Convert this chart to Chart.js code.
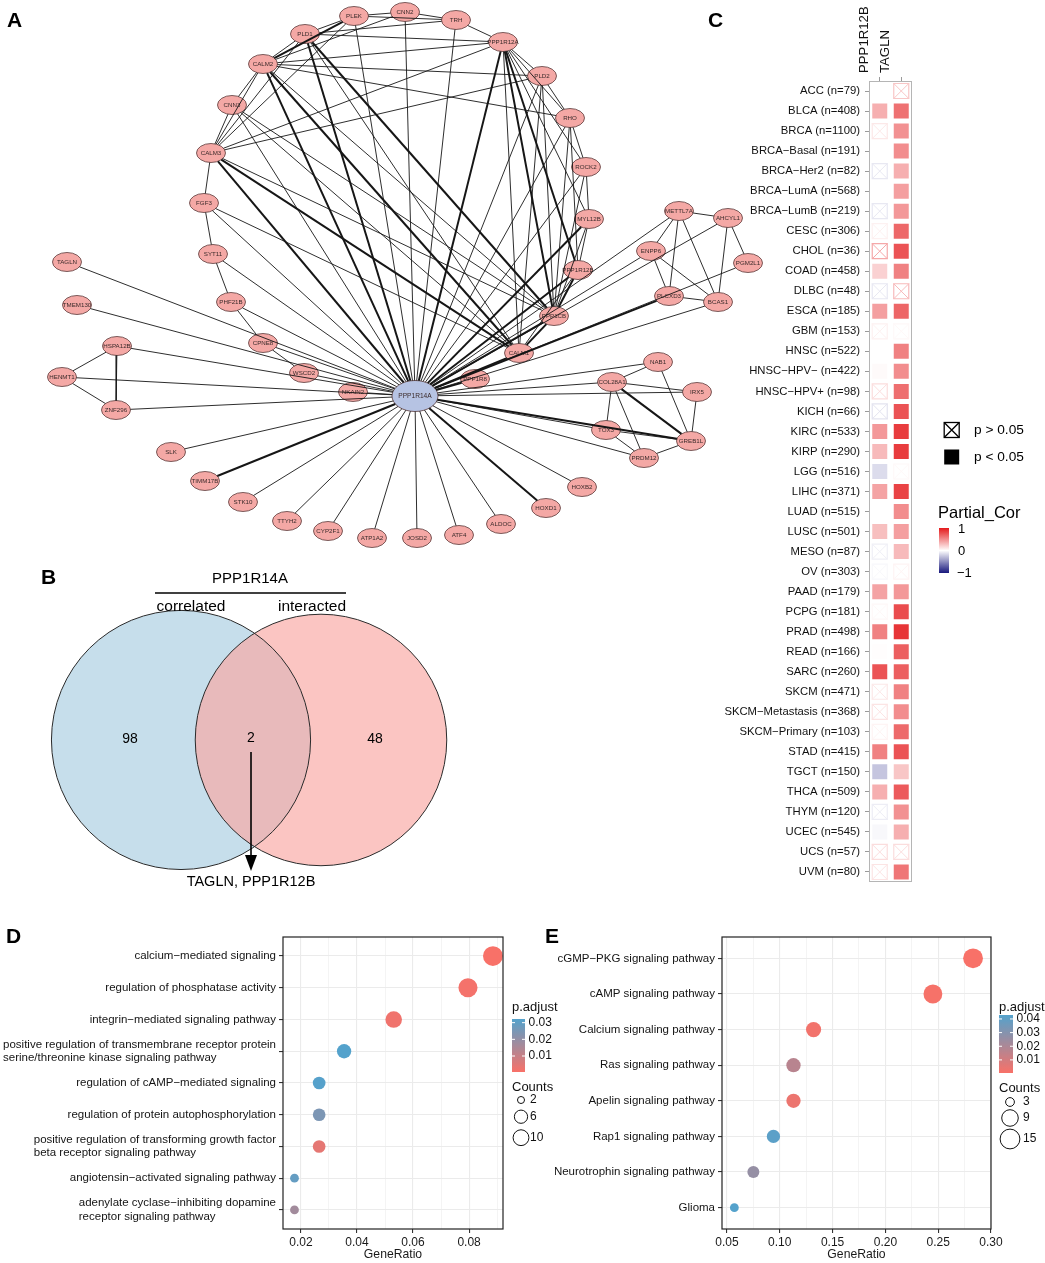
<!DOCTYPE html>
<html>
<head>
<meta charset="utf-8">
<title>PPP1R14A figure</title>
<script src="https://cdn.jsdelivr.net/npm/chart.js@4.4.1/dist/chart.umd.min.js"></script>
<style>
html,body{margin:0;padding:0;background:#ffffff;}
body{position:relative;width:1045px;height:1263px;overflow:hidden;font-family:"Liberation Sans",Arial,Helvetica,sans-serif;}
canvas{position:absolute;display:block;}
.tag{position:absolute;font-weight:bold;font-size:21px;line-height:1;color:#000;}
</style>
</head>
<body>
<canvas id="netA" width="780" height="560" style="left:0px;top:0px;width:780px;height:560px"></canvas>
<canvas id="vennB" width="470" height="340" style="left:0px;top:560px;width:470px;height:340px"></canvas>
<canvas id="heatC" width="345" height="900" style="left:700px;top:0px;width:345px;height:900px"></canvas>
<canvas id="dotD" width="560" height="343" style="left:0px;top:920px;width:560px;height:343px"></canvas>
<canvas id="dotE" width="490" height="343" style="left:555px;top:920px;width:490px;height:343px"></canvas>
<div class="tag" style="left:7px;top:9px">A</div>
<div class="tag" style="left:41px;top:566px">B</div>
<div class="tag" style="left:708px;top:9px">C</div>
<div class="tag" style="left:6px;top:925px">D</div>
<div class="tag" style="left:545px;top:925px">E</div>
<script>
// ------------------------------------------------------------------ data
// Panel A: network
const netHub = 'PPP1R14A';
const netNodes = ['PPP1R14A','PLEK','PLD1','CALM2','CNN3','CALM3','FGF3','CNN2','TRH','PPP1R12A','PLD2','RHO','ROCK2','MYL12B','METTL7A','AHCYL1','SYT11','TAGLN','PHF21B','TMEM130','CPNE8','HSPA12B','WSCD2','HENMT1','NKAIN2','ZNF296','SLK','ENPP6','PGM2L1','PPP1R12B','PLCXD3','BCAS1','PPP1CB','CALM1','NAB1','PPP1R8','COL28A1','IRX5','TOX3','GREB1L','PRDM12','TIMM17B','STK10','TTYH2','CYP2F1','ATP1A2','JOSD2','ATF4','ALDOC','HOXD1','HOXB2'];
const netX = [415,354,305,263,232,211,204,405,456,503,542,570,586,589,679,728,213,67,231,77,263,117,304,62,353,116,171,651,748,578,669,718,554,519,658,475,612,697,606,691,644,205,243,287,328,372,417,459,501,546,582];
const netY = [396,16,34,64,105,153,203,12,20,42,76,118,167,219,211,218,254,262,302,305,343,346,373,377,392,410,452,251,263,270,296,302,316,353,362,379,382,392,430,441,458,481,502,521,531,538,538,535,524,508,487];
const netEdges = [
 ['PPP1R14A','PLEK',1],['PPP1R14A','PLD1',2],['PPP1R14A','CALM2',2],['PPP1R14A','CNN3',1],['PPP1R14A','CALM3',2],['PPP1R14A','FGF3',1],['PPP1R14A','CNN2',1],['PPP1R14A','TRH',1],['PPP1R14A','PPP1R12A',2],['PPP1R14A','PLD2',1],['PPP1R14A','RHO',1],['PPP1R14A','ROCK2',1],['PPP1R14A','MYL12B',2],['PPP1R14A','METTL7A',1],['PPP1R14A','AHCYL1',1],['PPP1R14A','SYT11',1],['PPP1R14A','TAGLN',1],['PPP1R14A','PHF21B',1],['PPP1R14A','TMEM130',1],['PPP1R14A','CPNE8',1],['PPP1R14A','HSPA12B',1],['PPP1R14A','WSCD2',1],['PPP1R14A','HENMT1',1],['PPP1R14A','NKAIN2',1],['PPP1R14A','ZNF296',1],['PPP1R14A','SLK',1],['PPP1R14A','ENPP6',1],['PPP1R14A','PGM2L1',1],['PPP1R14A','PPP1R12B',2],['PPP1R14A','PLCXD3',2],['PPP1R14A','BCAS1',1],['PPP1R14A','PPP1CB',2],['PPP1R14A','CALM1',2],['PPP1R14A','NAB1',1],['PPP1R14A','PPP1R8',2],['PPP1R14A','COL28A1',1],['PPP1R14A','IRX5',1],['PPP1R14A','TOX3',1],['PPP1R14A','GREB1L',2],['PPP1R14A','PRDM12',1],['PPP1R14A','TIMM17B',2],['PPP1R14A','STK10',1],['PPP1R14A','TTYH2',1],['PPP1R14A','CYP2F1',1],['PPP1R14A','ATP1A2',1],['PPP1R14A','JOSD2',1],['PPP1R14A','ATF4',1],['PPP1R14A','ALDOC',1],['PPP1R14A','HOXD1',2],['PPP1R14A','HOXB2',1],
 ['PLEK','CNN2',1],['PLEK','TRH',1],['PLEK','PLD1',1],['PLEK','CALM2',2],['PLEK','CALM3',1],
 ['PLD1','CALM2',1],['PLD1','CALM3',1],['PLD1','TRH',1],['PLD1','PPP1R12A',1],['PLD1','PPP1CB',2],['PLD1','CALM1',1],
 ['CALM2','CNN3',1],['CALM2','CALM3',1],['CALM2','PLD2',1],['CALM2','PPP1R12A',1],['CALM2','RHO',1],['CALM2','PPP1CB',1],['CALM2','CALM1',2],
 ['CNN3','CALM3',1],['CNN3','CALM1',1],['CNN3','PPP1CB',1],
 ['CALM3','FGF3',1],['CALM3','PPP1R12A',1],['CALM3','PLD2',1],['CALM3','CALM1',2],['CALM3','PPP1CB',1],
 ['FGF3','SYT11',1],['FGF3','CALM1',1],
 ['CNN2','TRH',1],['CNN2','CALM2',1],['TRH','PPP1R12A',1],
 ['PPP1R12A','PLD2',1],['PPP1R12A','RHO',1],['PPP1R12A','ROCK2',1],['PPP1R12A','MYL12B',1],['PPP1R12A','PPP1R12B',2],['PPP1R12A','PPP1CB',2],['PPP1R12A','CALM1',1],
 ['PLD2','RHO',1],['PLD2','PPP1CB',1],['PLD2','CALM1',1],
 ['RHO','ROCK2',1],['RHO','PPP1R12B',1],['RHO','PPP1CB',1],
 ['ROCK2','MYL12B',1],['ROCK2','PPP1CB',1],
 ['MYL12B','PPP1R12B',1],['MYL12B','PPP1CB',1],
 ['PPP1R12B','PPP1CB',2],['PPP1R12B','CALM1',1],['PPP1CB','CALM1',2],
 ['SYT11','PHF21B',1],['PHF21B','CPNE8',1],['CPNE8','WSCD2',1],
 ['HSPA12B','HENMT1',1],['HSPA12B','ZNF296',1],['HENMT1','ZNF296',1],
 ['METTL7A','AHCYL1',1],['METTL7A','ENPP6',1],['METTL7A','PLCXD3',1],['METTL7A','BCAS1',1],['AHCYL1','PGM2L1',1],['AHCYL1','BCAS1',1],['ENPP6','PLCXD3',1],['ENPP6','BCAS1',1],['PLCXD3','BCAS1',1],
 ['NAB1','COL28A1',1],['NAB1','GREB1L',1],['COL28A1','IRX5',1],['COL28A1','TOX3',1],['COL28A1','PRDM12',1],['COL28A1','GREB1L',2],['IRX5','GREB1L',1],['TOX3','PRDM12',1],['TOX3','GREB1L',1],['PRDM12','GREB1L',1]
];

// Panel B: Venn
const vennSets = ['correlated','interacted'];
const vennCounts = [98, 2, 48];           // only-correlated, shared, only-interacted
const vennShared = 'TAGLN, PPP1R12B';
const vennX = [-0.551, 0.551];
const vennR = [1.02, 0.99];

// Panel C: partial correlation heatmap
const heatCols = ['PPP1R12B','TAGLN'];
const heatRows = ['ACC (n=79)','BLCA (n=408)','BRCA (n=1100)','BRCA−Basal (n=191)','BRCA−Her2 (n=82)','BRCA−LumA (n=568)','BRCA−LumB (n=219)','CESC (n=306)','CHOL (n=36)','COAD (n=458)','DLBC (n=48)','ESCA (n=185)','GBM (n=153)','HNSC (n=522)','HNSC−HPV− (n=422)','HNSC−HPV+ (n=98)','KICH (n=66)','KIRC (n=533)','KIRP (n=290)','LGG (n=516)','LIHC (n=371)','LUAD (n=515)','LUSC (n=501)','MESO (n=87)','OV (n=303)','PAAD (n=179)','PCPG (n=181)','PRAD (n=498)','READ (n=166)','SARC (n=260)','SKCM (n=471)','SKCM−Metastasis (n=368)','SKCM−Primary (n=103)','STAD (n=415)','TGCT (n=150)','THCA (n=509)','THYM (n=120)','UCEC (n=545)','UCS (n=57)','UVM (n=80)'];
const corPPP1R12B = [0.0,0.35,0.10,0.0,-0.10,0.0,-0.10,0.06,0.38,0.20,-0.10,0.42,0.06,0.0,0.02,0.15,-0.12,0.45,0.30,-0.15,0.40,0.0,0.28,-0.07,-0.03,0.40,0.03,0.55,0.01,0.75,0.10,0.12,0.05,0.55,-0.25,0.35,-0.08,-0.03,0.15,0.12];
const sigPPP1R12B = [1,1,0,1,0,1,0,0,0,1,0,1,0,1,1,0,0,1,1,1,1,1,1,0,0,1,0,1,1,1,0,0,0,1,1,1,0,1,0,0];
const corTAGLN = [0.25,0.62,0.48,0.50,0.35,0.42,0.45,0.66,0.75,0.55,0.30,0.67,0.03,0.55,0.50,0.63,0.75,0.85,0.85,0.03,0.82,0.50,0.42,0.30,0.05,0.45,0.78,0.88,0.70,0.70,0.55,0.50,0.65,0.75,0.25,0.72,0.48,0.35,0.15,0.60];
const sigTAGLN = [0,1,1,1,1,1,1,1,1,1,0,1,0,1,1,1,1,1,1,0,1,1,1,1,0,1,1,1,1,1,1,1,1,1,1,1,1,1,0,1];

// Panel D: GO enrichment
const goTerms = [
 ['calcium−mediated signaling'],
 ['regulation of phosphatase activity'],
 ['integrin−mediated signaling pathway'],
 ['positive regulation of transmembrane receptor protein','serine/threonine kinase signaling pathway'],
 ['regulation of cAMP−mediated signaling'],
 ['regulation of protein autophosphorylation'],
 ['positive regulation of transforming growth factor','beta receptor signaling pathway'],
 ['angiotensin−activated signaling pathway'],
 ['adenylate cyclase−inhibiting dopamine','receptor signaling pathway']
];
const goRatio = [0.0885,0.0796,0.0531,0.0354,0.0265,0.0265,0.0265,0.0177,0.0177];
const goCount = [10,9,6,4,3,3,3,2,2];
const goPadj  = [0.0004,0.0012,0.0020,0.0322,0.0318,0.0245,0.0040,0.0290,0.0170];
const goPadjTicks = [0.01,0.02,0.03];
const goCountTicks = [2,6,10];
const goXTicks = [0.02,0.04,0.06,0.08];

// Panel E: KEGG enrichment
const keggTerms = [['cGMP−PKG signaling pathway'],['cAMP signaling pathway'],['Calcium signaling pathway'],['Ras signaling pathway'],['Apelin signaling pathway'],['Rap1 signaling pathway'],['Neurotrophin signaling pathway'],['Glioma']];
const keggRatio = [0.283,0.245,0.132,0.113,0.113,0.094,0.075,0.057];
const keggCount = [15,13,7,6,6,5,4,3];
const keggPadj  = [0.0004,0.0010,0.0020,0.0170,0.0035,0.0410,0.0260,0.0429];
const keggPadjTicks = [0.01,0.02,0.03,0.04];
const keggCountTicks = [3,9,15];
const keggXTicks = [0.05,0.10,0.15,0.20,0.25,0.30];

// ------------------------------------------------------------------ setup
const FONT = '"Liberation Sans", Arial, Helvetica, sans-serif';
Chart.defaults.font.family = FONT;
Chart.defaults.color = '#1a1a1a';
Chart.defaults.animation = false;
Chart.defaults.events = [];
Chart.defaults.plugins.legend.display = false;
Chart.defaults.plugins.tooltip.enabled = false;

// ------------------------------------------------------------------ A: network
(function(){
  const ix = n => netNodes.indexOf(n);
  const radii = n => n === netHub ? [23, 15.5] : [14.5, 9.5];
  const edgeSets = netEdges.map(([a, b, w]) => {
    const ia = ix(a), ib = ix(b);
    const x1 = netX[ia], y1 = netY[ia], x2 = netX[ib], y2 = netY[ib];
    const dx = x2 - x1, dy = y2 - y1, L = Math.hypot(dx, dy), ux = dx / L, uy = dy / L;
    const [ra, sa] = radii(a), [rb, sb] = radii(b);
    const ta = 1 / Math.hypot(ux / ra, uy / sa), tb = 1 / Math.hypot(ux / rb, uy / sb);
    return { type: 'scatter', showLine: true,
      data: [{x: x1 + ux * ta, y: y1 + uy * ta}, {x: x2 - ux * tb, y: y2 - uy * tb}],
      borderColor: '#161616', borderWidth: w > 1 ? 2.0 : 0.9, pointRadius: 0, tension: 0 };
  });
  const nodeSet = { type: 'scatter', data: netNodes.map((n, i) => ({x: netX[i], y: netY[i]})), pointRadius: 0 };
  const nodePlugin = {
    id: 'nodes',
    beforeDatasetsDraw(chart) {
      const meta = chart.getDatasetMeta(chart.data.datasets.length - 1);
      const ctx = chart.ctx;
      ctx.save();
      meta.data.forEach((pt, i) => {
        const name = netNodes[i];
        const [rx, ry] = radii(name);
        ctx.beginPath();
        ctx.ellipse(pt.x, pt.y, rx, ry, 0, 0, Math.PI * 2);
        ctx.fillStyle = name === netHub ? '#B6C3E3' : '#F4A8A5';
        ctx.fill();
        ctx.lineWidth = 0.8; ctx.strokeStyle = '#5a3a3a'; ctx.stroke();
        ctx.fillStyle = '#3a2a2a';
        ctx.font = (name === netHub ? '6.6px ' : '6.2px ') + FONT;
        ctx.textAlign = 'center'; ctx.textBaseline = 'middle';
        ctx.fillText(name, pt.x, pt.y + 0.5);
      });
      ctx.restore();
    }
  };
  new Chart(document.getElementById('netA'), {
    type: 'scatter',
    data: { datasets: edgeSets.concat([nodeSet]) },
    options: { responsive: false, layout: {padding: 0},
      scales: { x: {type: 'linear', display: false, min: 0, max: 780},
                y: {type: 'linear', display: false, min: 0, max: 560, reverse: true} } },
    plugins: [nodePlugin]
  });
})();

// ------------------------------------------------------------------ B: Venn
(function(){
  const rad = ctx => {
    const sx = ctx.chart.scales.x;
    return Math.abs(sx.getPixelForValue(vennR[ctx.dataIndex]) - sx.getPixelForValue(0));
  };
  const pts = vennX.map(x => ({x: x, y: 0}));
  const vennPlugin = {
    id: 'vennText',
    afterDatasetsDraw(chart) {
      const ctx = chart.ctx;
      const sx = chart.scales.x;
      const cx = sx.getPixelForValue(0);
      ctx.save();
      ctx.fillStyle = '#000'; ctx.strokeStyle = '#000';
      ctx.textAlign = 'center'; ctx.textBaseline = 'middle';
      ctx.font = '15px ' + FONT;
      ctx.fillText(netHub, cx - 1, 19);
      ctx.lineWidth = 1.4;
      ctx.beginPath(); ctx.moveTo(155, 33); ctx.lineTo(346, 33); ctx.stroke();
      ctx.font = '15.5px ' + FONT;
      ctx.fillText(vennSets[0], 191, 47);
      ctx.fillText(vennSets[1], 312, 47);
      ctx.font = '14px ' + FONT;
      ctx.fillText(String(vennCounts[0]), 130, 179);
      ctx.fillText(String(vennCounts[1]), cx, 178);
      ctx.fillText(String(vennCounts[2]), 375, 179);
      ctx.lineWidth = 1.6;
      ctx.beginPath(); ctx.moveTo(cx, 192); ctx.lineTo(cx, 298); ctx.stroke();
      ctx.beginPath(); ctx.moveTo(cx, 311); ctx.lineTo(cx - 6, 295); ctx.lineTo(cx + 6, 295); ctx.closePath(); ctx.fill();
      ctx.font = '14.5px ' + FONT;
      ctx.fillText(vennShared, cx, 322);
      ctx.restore();
    }
  };
  new Chart(document.getElementById('vennB'), {
    type: 'scatter',
    data: { datasets: [
      { data: pts, pointRadius: rad, pointBackgroundColor: 'rgba(0,0,0,0)', pointBorderColor: '#2a2a2a', pointBorderWidth: 1 },
      { data: pts, pointRadius: rad, pointBackgroundColor: ['rgb(198,222,235)', 'rgba(249,168,164,0.667)'], pointBorderWidth: 0 }
    ]},
    options: { responsive: false, layout: {padding: 0},
      scales: { x: {type: 'linear', display: false, min: -1.976, max: 1.724},
                y: {type: 'linear', display: false, min: -1.260, max: 1.417} } },
    plugins: [vennPlugin]
  });
})();

// ------------------------------------------------------------------ C: heatmap
function corColor(v) {
  const hi = [228, 26, 28], lo = [24, 24, 125];
  const t = Math.min(1, Math.abs(v)), c = v >= 0 ? hi : lo;
  const m = k => Math.round(255 + (c[k] - 255) * t);
  return 'rgb(' + m(0) + ',' + m(1) + ',' + m(2) + ')';
}
(function(){
  const sigPts = [], sigCol = [], nsPts = [], nsCol = [];
  heatRows.forEach((r, i) => {
    [[corPPP1R12B, sigPPP1R12B, 0], [corTAGLN, sigTAGLN, 1]].forEach(([cv, sv, c]) => {
      const p = {x: heatCols[c], y: r};
      if (sv[i]) { sigPts.push(p); sigCol.push(corColor(cv[i])); }
      else { nsPts.push(p); nsCol.push(corColor(cv[i])); }
    });
  });
  const R = 7.5 / Math.SQRT1_2;
  const boxPlugin = {
    id: 'heatBox',
    afterDraw(chart) {
      const ctx = chart.ctx, a = chart.chartArea;
      ctx.save();
      ctx.strokeStyle = '#b5b5b5'; ctx.lineWidth = 1;
      ctx.strokeRect(a.left + 0.5, a.top + 0.5, a.right - a.left - 1, a.bottom - a.top - 1);
      ctx.strokeStyle = '#000'; ctx.lineWidth = 1.3;
      const bx = 251.7, s = 7.5;
      ctx.strokeRect(bx - s, 430 - s, 2 * s, 2 * s);
      ctx.beginPath(); ctx.moveTo(bx - s, 430 - s); ctx.lineTo(bx + s, 430 + s);
      ctx.moveTo(bx + s, 430 - s); ctx.lineTo(bx - s, 430 + s); ctx.stroke();
      ctx.fillStyle = '#000';
      ctx.fillRect(bx - s, 457 - s, 2 * s, 2 * s);
      ctx.font = '13.7px ' + FONT; ctx.textAlign = 'left'; ctx.textBaseline = 'middle';
      ctx.fillText('p > 0.05', 274, 430);
      ctx.fillText('p < 0.05', 274, 457);
      ctx.font = '16.5px ' + FONT;
      ctx.fillText('Partial_Cor', 238, 513);
      const g = ctx.createLinearGradient(0, 528, 0, 573);
      for (let k = 0; k <= 20; k++) g.addColorStop(k / 20, corColor(1 - k / 10));
      ctx.fillStyle = g; ctx.fillRect(239, 528, 10, 45);
      ctx.fillStyle = '#000'; ctx.font = '13px ' + FONT;
      ctx.fillText('1', 258, 529.5);
      ctx.fillText('0', 258, 551);
      ctx.fillText('−1', 257, 573);
      ctx.restore();
    }
  };
  new Chart(document.getElementById('heatC'), {
    type: 'scatter',
    data: { datasets: [
      { data: nsPts, pointStyle: 'crossRot', pointRadius: R, pointBorderColor: nsCol, pointBackgroundColor: 'rgba(0,0,0,0)', pointBorderWidth: 1 },
      { data: nsPts, pointStyle: 'rect', pointRadius: R, pointBorderColor: nsCol, pointBackgroundColor: 'rgba(0,0,0,0)', pointBorderWidth: 1.2 },
      { data: sigPts, pointStyle: 'rect', pointRadius: R, pointBackgroundColor: sigCol, pointBorderWidth: 0 }
    ]},
    options: { responsive: false, layout: {padding: {top: 0, right: 133, bottom: 18, left: 0}},
      scales: {
        x: { type: 'category', labels: heatCols, position: 'top', offset: true,
             grid: {drawOnChartArea: false, drawTicks: true, tickLength: 4, tickColor: '#9a9a9a'},
             border: {display: false},
             ticks: {minRotation: 90, maxRotation: 90, padding: 4, font: {size: 13.2}, color: '#111'},
             afterFit: s => { s.height = 81; } },
        y: { type: 'category', labels: heatRows, offset: true,
             grid: {drawOnChartArea: false, drawTicks: true, tickLength: 4, tickColor: '#9a9a9a'},
             border: {display: false},
             ticks: {autoSkip: false, padding: 5, font: {size: 11.3}, color: '#111'},
             afterFit: s => { s.width = 169; } }
      } },
    plugins: [boxPlugin]
  });
})();

// ------------------------------------------------------------------ D/E: dot plots
const P_LOW = [248, 113, 104], P_HIGH = [84, 162, 204];
function padjColor(p, lo, hi) {
  const t = Math.max(0, Math.min(1, (p - lo) / (hi - lo)));
  const m = k => Math.round(P_LOW[k] + (P_HIGH[k] - P_LOW[k]) * t);
  return 'rgb(' + m(0) + ',' + m(1) + ',' + m(2) + ')';
}
function sizeOf(c, cmin, cmax) { return 4.4 + 5.5 * Math.sqrt((c - cmin) / (cmax - cmin)); }

function dotPlot(id, cfg) {
  const n = cfg.terms.length;
  const pLo = Math.min(...cfg.padj), pHi = Math.max(...cfg.padj);
  const cMin = Math.min(...cfg.count), cMax = Math.max(...cfg.count);
  const gridVals = [];
  for (let v = cfg.gridStart; v <= cfg.xmax + 1e-9; v += cfg.gridStep) gridVals.push(+v.toFixed(4));
  const isMajor = v => cfg.xTicks.some(t => Math.abs(t - v) < 1e-6);
  const labelPlugin = {
    id: 'ylabels',
    afterDraw(chart) {
      const ctx = chart.ctx, ys = chart.scales.y, a = chart.chartArea;
      ctx.save();
      ctx.strokeStyle = '#222'; ctx.lineWidth = 1.2;
      ctx.strokeRect(a.left, a.top, a.right - a.left, a.bottom - a.top);
      ctx.font = cfg.labelFont + 'px ' + FONT; ctx.fillStyle = '#141414';
      ctx.textAlign = 'left'; ctx.textBaseline = 'middle';
      const right = a.left - 7;
      cfg.terms.forEach((lines, i) => {
        const y = ys.getPixelForValue(i);
        const w = Math.max(...lines.map(l => ctx.measureText(l).width));
        lines.forEach((l, j) => ctx.fillText(l, right - w, y + (j - (lines.length - 1) / 2) * 13.5));
      });
      const L = cfg.legend;
      ctx.font = '13px ' + FONT; ctx.fillStyle = '#111';
      ctx.fillText('p.adjust', L.x, L.titleY);
      const g = ctx.createLinearGradient(0, L.barBottom, 0, L.barTop);
      for (let k = 0; k <= 20; k++) g.addColorStop(k / 20, padjColor(pLo + (pHi - pLo) * k / 20, pLo, pHi));
      ctx.fillStyle = g; ctx.fillRect(L.x, L.barTop, L.barW, L.barBottom - L.barTop);
      ctx.font = '12px ' + FONT; ctx.fillStyle = '#111';
      ctx.strokeStyle = '#fff'; ctx.lineWidth = 1;
      cfg.padjTicks.forEach(p => {
        const y = L.barBottom - (p - pLo) / (pHi - pLo) * (L.barBottom - L.barTop);
        ctx.beginPath(); ctx.moveTo(L.x, y); ctx.lineTo(L.x + 3, y);
        ctx.moveTo(L.x + L.barW - 3, y); ctx.lineTo(L.x + L.barW, y); ctx.stroke();
        ctx.fillText(p.toFixed(2), L.x + L.barW + 3.5, y);
      });
      ctx.font = '13px ' + FONT;
      ctx.fillText('Counts', L.x, L.countsY);
      ctx.font = '12px ' + FONT;
      ctx.strokeStyle = '#111'; ctx.lineWidth = 1;
      cfg.countTicks.forEach((c, k) => {
        const r = sizeOf(c, cMin, cMax) * L.rScale;
        ctx.beginPath(); ctx.arc(L.circX, L.circY[k], r, 0, Math.PI * 2); ctx.stroke();
        ctx.fillText(String(c), L.circLabelX, L.circY[k]);
      });
      ctx.restore();
    }
  };
  new Chart(document.getElementById(id), {
    type: 'scatter',
    data: { datasets: [{
      data: cfg.ratio.map((r, i) => ({x: r, y: i})),
      pointRadius: cfg.count.map(c => sizeOf(c, cMin, cMax)),
      pointBackgroundColor: cfg.padj.map(p => padjColor(p, pLo, pHi)),
      pointBorderWidth: 0, clip: false
    }]},
    options: { responsive: false, layout: {padding: {top: 17, right: cfg.padRight, bottom: 0, left: 0}},
      scales: {
        x: { type: 'linear', min: cfg.xmin, max: cfg.xmax,
             afterBuildTicks: s => { s.ticks = gridVals.map(v => ({value: v})); },
             ticks: {autoSkip: false, maxRotation: 0, padding: 2, font: {size: 12}, color: '#1a1a1a',
                     callback: v => isMajor(v) ? v.toFixed(2) : ''},
             grid: {color: '#EBEBEB', lineWidth: c => isMajor(c.tick.value) ? 1.1 : 0.55,
                    tickColor: c => isMajor(c.tick.value) ? '#333' : 'rgba(0,0,0,0)', tickLength: 4, drawTicks: true},
             border: {display: false},
             title: {display: true, text: 'GeneRatio', font: {size: 12.2}, color: '#1a1a1a', padding: {top: 0, bottom: 1}},
             afterFit: s => { s.height = 34; } },
        y: { type: 'linear', min: -0.6, max: n - 1 + 0.6, reverse: true,
             afterBuildTicks: s => { s.ticks = cfg.terms.map((t, i) => ({value: i})); },
             ticks: {display: false},
             grid: {color: '#EBEBEB', lineWidth: 1.1, tickColor: '#333', tickLength: 4, drawTicks: true},
             border: {display: false},
             afterFit: s => { s.width = cfg.yWidth; } }
      } },
    plugins: [labelPlugin]
  });
}

dotPlot('dotD', {
  terms: goTerms, ratio: goRatio, count: goCount, padj: goPadj,
  xmin: 0.0136, xmax: 0.0921, gridStart: 0.02, gridStep: 0.01, xTicks: goXTicks,
  padjTicks: goPadjTicks, countTicks: goCountTicks,
  yWidth: 283, padRight: 57, labelFont: 11.5,
  legend: {x: 512, titleY: 87, barTop: 99, barBottom: 152, barW: 13,
           countsY: 167.5, circX: 521, circY: [180, 196.7, 217.7], circLabelX: 530, rScale: 0.8}
});
dotPlot('dotE', {
  terms: keggTerms, ratio: keggRatio, count: keggCount, padj: keggPadj,
  xmin: 0.0453, xmax: 0.300, gridStart: 0.05, gridStep: 0.025, xTicks: keggXTicks,
  padjTicks: keggPadjTicks, countTicks: keggCountTicks,
  yWidth: 167, padRight: 54, labelFont: 11.5,
  legend: {x: 444, titleY: 87, barTop: 95, barBottom: 153, barW: 14,
           countsY: 168, circX: 455, circY: [182, 198, 219], circLabelX: 468, rScale: 1}
});
</script>
</body>
</html>
